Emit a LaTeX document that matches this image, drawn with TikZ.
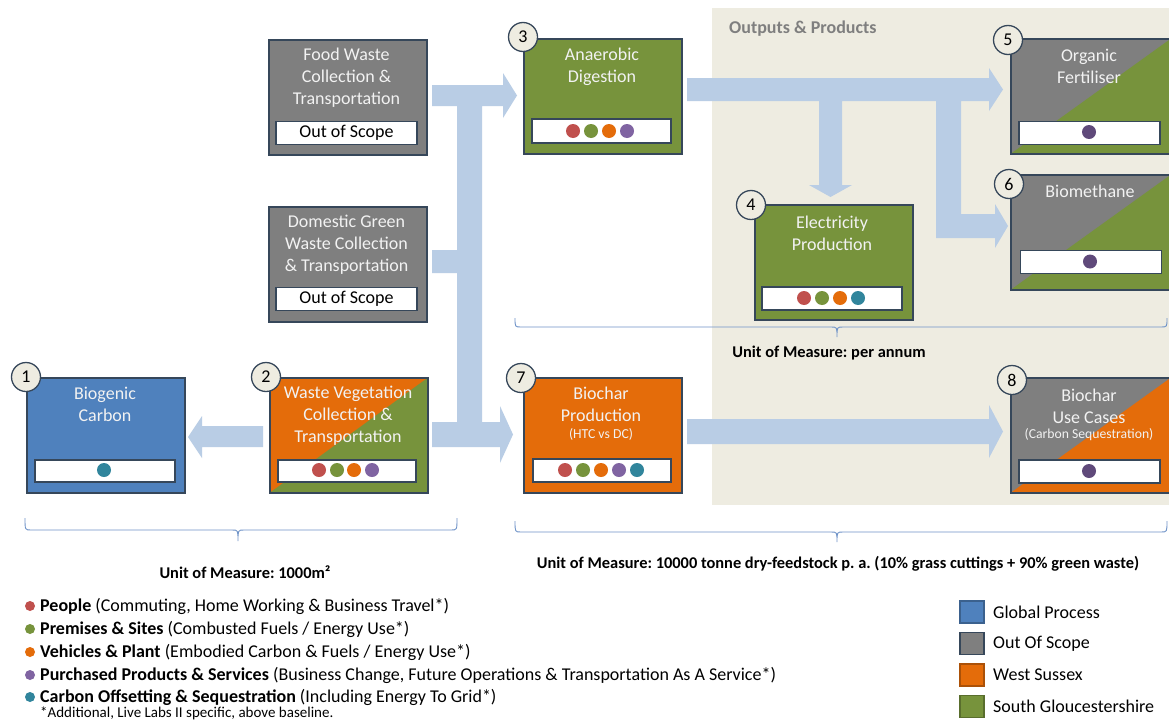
\documentclass[tikz,border=0pt]{standalone}
\usepackage{fontspec}
\setmainfont{Carlito}
\frenchspacing
\definecolor{bgbeige}{HTML}{EEECE1}
\definecolor{arrowc}{HTML}{B9CDE5}
\definecolor{bordc}{HTML}{36475A}
\definecolor{cblue}{HTML}{4F81BD}
\definecolor{cgray}{HTML}{7F7F7F}
\definecolor{corange}{HTML}{E46C0A}
\definecolor{cgreen}{HTML}{77933C}
\definecolor{boxtxt}{HTML}{F2F2F2}
\definecolor{dred}{HTML}{C0504D}
\definecolor{dgreen}{HTML}{77933C}
\definecolor{dorange}{HTML}{E46C0A}
\definecolor{dpurple}{HTML}{8064A2}
\definecolor{dteal}{HTML}{31859C}
\definecolor{ddpurple}{HTML}{5F497A}
\definecolor{bracec}{HTML}{6F93C8}
\definecolor{outtxt}{HTML}{7F7F7F}
\newcommand{\mybrace}[6]{\draw[brc] (#1,#3) .. controls (#1,#4) .. (#1+6,#4) -- (#5-6,#4) .. controls (#5,#4) .. (#5,#6) .. controls (#5,#4) .. (#5+6,#4) -- (#2-6,#4) .. controls (#2,#4) .. (#2,#3);}
\begin{document}
\begin{tikzpicture}[x=1pt,y=-1pt,
  box/.style={draw=bordc, line width=1.5pt, minimum width=158pt, minimum height=115pt, anchor=north west, inner sep=0pt},
  wbox/.style={box, minimum width=160pt},
  split/.style={path picture={\fill[#1] (path picture bounding box.south west) -- (path picture bounding box.north east) -- (path picture bounding box.south east) -- cycle;}},
  ttl/.style={text=boxtxt, font=\fontsize{18}{22}\selectfont, align=center, inner sep=0pt},
  sml/.style={text=boxtxt, font=\fontsize{13.7}{15}\selectfont, inner sep=0pt},
  inbox/.style={draw=bordc, line width=1.5pt, fill=white, minimum height=23pt, inner sep=0pt},
  numc/.style={circle, draw=bordc, line width=1.3pt, fill=bgbeige, minimum size=29pt, inner sep=0pt, font=\fontsize{18}{18}\selectfont},
  arr/.style={fill=arrowc},
  brc/.style={draw=bracec, line width=0.9pt},
  uom/.style={font=\bfseries\fontsize{16.4}{16.4}\selectfont, inner sep=0pt},
  leg/.style={anchor=west, font=\fontsize{18}{18}\selectfont, inner sep=0pt},
  sq/.style={line width=1.5pt, minimum width=24pt, minimum height=22pt, inner sep=0pt}
]
\useasboundingbox (0,0) rectangle (1169,720);
\fill[white] (0,0) rectangle (1169,720);
\fill[bgbeige] (712,8) rectangle (1169,505);
\node[anchor=west, text=outtxt, font=\bfseries\fontsize{18}{18}\selectfont, inner sep=0pt] (outp) at (729,29) {Outputs \& Products};

% ---- arrows
\fill[arr] (263,426) -- (202,426) -- (202,416) -- (188,437) -- (202,458) -- (202,447) -- (263,447) -- cycle;
\fill[arr] (432,85) -- (503,85) -- (503,73) -- (517,95.5) -- (503,118) -- (503,106) -- (482,106) -- (482,422) -- (500,422) -- (500,406) -- (513,434.5) -- (500,463) -- (500,447) -- (432,447) -- (432,422) -- (457,422) -- (457,273) -- (432,273) -- (432,250) -- (457,250) -- (457,106) -- (432,106) -- cycle;
\fill[arr] (687,78) -- (989,78) -- (989,68) -- (1003,89.5) -- (989,111) -- (989,101) -- (961,101) -- (961,214) -- (995,214) -- (995,204) -- (1008,226) -- (995,248) -- (995,238) -- (936,238) -- (936,101) -- (842,101) -- (842,185) -- (852,185) -- (830.5,197) -- (809,185) -- (819,185) -- (819,101) -- (687,101) -- cycle;
\fill[arr] (687,419) -- (989,419) -- (989,405) -- (1003,431.5) -- (989,458) -- (989,444) -- (687,444) -- cycle;

% ---- boxes
\node[box, fill=cgray] (fw) at (268,39) {};
\node[ttl] (fwt) at (346.5,78) {Food Waste\\Collection \&\\Transportation};
\node[inbox, minimum width=141pt, font=\fontsize{18}{18}\selectfont] (fwi) at (346.5,133) {Out of Scope};

\node[box, fill=cgray] (dg) at (268,206) {};
\node[ttl] (dgt) at (346.5,245) {Domestic Green\\Waste Collection\\\& Transportation};
\node[inbox, minimum width=141pt, font=\fontsize{18}{18}\selectfont] (dgi) at (346.5,299) {Out of Scope};

\node[box, fill=cblue] (b1) at (26,377) {};
\node[ttl] (b1t) at (105,404.5) {Biogenic\\Carbon};
\node[inbox, minimum width=140pt, minimum height=22pt] (b1i) at (105,471) {};
\fill[dteal] (104,470) circle[radius=7pt];

\node[box, fill=corange, split=cgreen] (b2) at (269,377) {};
\node[ttl] (b2t) at (348,416) {Waste Vegetation\\Collection \&\\Transportation};
\node[inbox, minimum width=138pt, minimum height=22pt] (b2i) at (347,471) {};
\foreach \x/\c in {319/dred,337/dgreen,354/dorange,372/dpurple} \fill[\c] (\x,470) circle[radius=7pt];

\node[box, fill=cgreen] (b3) at (523,38) {};
\node[ttl] (b3t) at (602,67) {Anaerobic\\Digestion};
\node[inbox, minimum width=139pt, minimum height=24pt] (b3i) at (601.5,131) {};
\foreach \x/\c in {573/dred,591/dgreen,609/dorange,627/dpurple} \fill[\c] (\x,131) circle[radius=7pt];

\node[box, fill=cgreen] (b4) at (754,204) {};
\node[ttl] (b4t) at (832,233) {Electricity\\Production};
\node[inbox, minimum width=140pt] (b4i) at (832,298.5) {};
\foreach \x/\c in {804/dred,822/dgreen,840/dorange,858/dteal} \fill[\c] (\x,298) circle[radius=7pt];

\node[wbox, fill=cgray, split=cgreen] (b5) at (1010,38) {};
\node[ttl] (b5t) at (1089,66) {Organic\\Fertiliser};
\node[inbox, minimum width=141pt, minimum height=23pt] (b5i) at (1089.5,133) {};
\fill[ddpurple] (1089,132) circle[radius=7pt];

\node[wbox, fill=cgray, split=cgreen] (b6) at (1010,174) {};
\node[ttl] (b6t) at (1090,191) {Biomethane};
\node[inbox, minimum width=141pt] (b6i) at (1091,262) {};
\fill[ddpurple] (1090,261.5) circle[radius=7pt];

\node[box, fill=corange] (b7) at (523,377) {};
\node[ttl] (b7t) at (601,404.5) {Biochar\\Production};
\node[sml] (b7s) at (601,434) {(HTC vs DC)};
\node[inbox, minimum width=138pt] (b7i) at (602,470.5) {};
\foreach \x/\c in {565/dred,583/dgreen,601/dorange,619/dpurple,637/dteal} \fill[\c] (\x,470) circle[radius=7pt];

\node[wbox, fill=cgray, split=corange] (b8) at (1010,377) {};
\node[ttl] (b8t) at (1089,406) {Biochar\\Use Cases};
\node[sml] (b8s) at (1089,435) {(Carbon Sequestration)};
\node[inbox, minimum width=141pt] (b8i) at (1089.5,471.5) {};
\fill[ddpurple] (1089,471) circle[radius=7pt];

% ---- number circles
\node[numc] (n1) at (26,377) {1};
\node[numc] (n2) at (266,377) {2};
\node[numc] (n3) at (523,37) {3};
\node[numc] (n4) at (751,205) {4};
\node[numc] (n5) at (1008,40) {5};
\node[numc] (n6) at (1009,184) {6};
\node[numc] (n7) at (521,378) {7};
\node[numc] (n8) at (1012,380) {8};

% ---- braces
\mybrace{25}{457}{518}{530}{238}{541}
\mybrace{515}{1167}{318}{327}{837}{337}
\mybrace{515}{1167}{521}{532}{837}{542}
\node[uom] (u1) at (245,572) {Unit of Measure: 1000m²};
\node[uom] (u2) at (829,353) {Unit of Measure: per annum};
\node[uom] (u3) at (838,564) {Unit of Measure: 10000 tonne dry-feedstock p. a. (10\% grass cuttings + 90\% green waste)};

% ---- legend
\foreach \y/\c in {606/dred,629/dgreen,652/dorange,675/dpurple,697/dteal} \fill[\c] (30,\y) circle[radius=5pt];
\node[leg] (l1) at (40,606) {\textbf{People} (Commuting, Home Working \& Business Travel*)};
\node[leg] (l2) at (40,629) {\textbf{Premises \& Sites} (Combusted Fuels / Energy Use*)};
\node[leg] (l3) at (40,652) {\textbf{Vehicles \& Plant} (Embodied Carbon \& Fuels / Energy Use*)};
\node[leg] (l4) at (40,675) {\textbf{Purchased Products \& Services} (Business Change, Future Operations \& Transportation As A Service*)};
\node[leg] (l5) at (40,697) {\textbf{Carbon Offsetting \& Sequestration} (Including Energy To Grid*)};
\node[anchor=west, font=\fontsize{15}{15}\selectfont, inner sep=0pt] (l6) at (40,713) {*Additional, Live Labs II specific, above baseline.};

\node[sq, draw=cblue!75!black, fill=cblue] (s1) at (972,612) {};
\node[sq, draw=bordc, fill=cgray] (s2) at (972,643.5) {};
\node[sq, draw=corange!75!black, fill=corange] (s3) at (972,675) {};
\node[sq, draw=cgreen!75!black, fill=cgreen] (s4) at (972,706.5) {};
\node[leg] (sl1) at (993,612) {Global Process};
\node[leg] (sl2) at (993,643.5) {Out Of Scope};
\node[leg] (sl3) at (993,675) {West Sussex};
\node[leg] (sl4) at (993,706.5) {South Gloucestershire};
\end{tikzpicture}
\end{document}
